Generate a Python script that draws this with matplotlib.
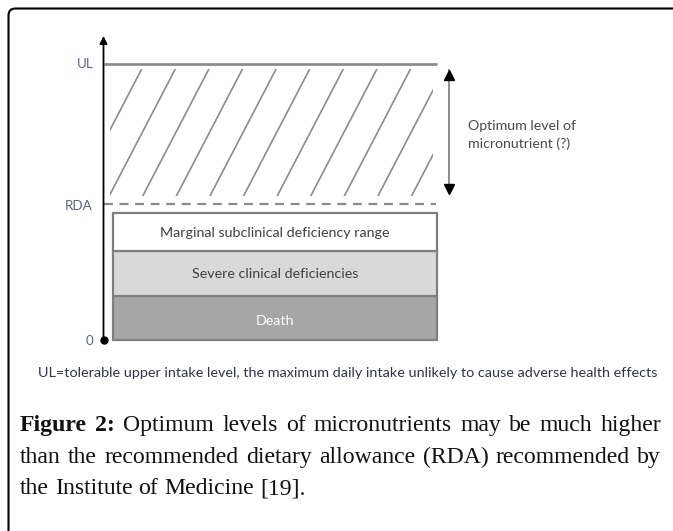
import matplotlib
matplotlib.use("Agg")
import matplotlib.pyplot as plt
from matplotlib.patches import FancyBboxPatch, Rectangle
import numpy as np

# ---------------- data (intake level, arbitrary units, 0 at origin) ----------------
band_labels = ["Death", "Severe clinical deficiencies", "Marginal subclinical deficiency range"]
band_bottoms = [0, 44, 89]
band_tops = [44, 89, 127]
band_colors = ["#a6a6a6", "#d9d9d9", "#ffffff"]
band_text_colors = ["#ffffff", "#404040", "#404040"]
level_names = ["0", "RDA", "UL"]
level_values = [0, 136, 276]
optimum_span = [147, 270]
optimum_lines = ["Optimum level of", "micronutrient (?)"]
footnote = ("UL=tolerable upper intake level, the maximum daily intake unlikely "
            "to cause adverse health effects")
caption_bold = "Figure 2:"
caption_text = ("Optimum levels of micronutrients may be much higher than the "
                "recommended dietary allowance (RDA) recommended by the Institute "
                "of Medicine [19].")
caption_breaks = [8, 16]  # words per justified line (after bold label)

# ---------------- figure ----------------
W, H = 673, 531
fig = plt.figure(figsize=(W / 100, H / 100), dpi=100)
fig.patch.set_facecolor("white")

page = fig.add_axes([0, 0, 1, 1])
page.set_xlim(0, W)
page.set_ylim(H, 0)
page.axis("off")

ax = fig.add_axes([0, 0, 1, 1])
ax.set_xlim(0, W)
ax.set_ylim(340 - H, 340)  # level L sits at pixel row 340-L
ax.axis("off")
ax.patch.set_alpha(0)

sans = ["Lato", "DejaVu Sans"]
serif = ["Liberation Serif", "DejaVu Serif"]
GRAY = "#8c8c8c"

# frame
page.add_patch(FancyBboxPatch((8.5, 8.5), 720, 600,
                              boxstyle="round,pad=0,rounding_size=7",
                              fill=False, ec="black", lw=1.5, clip_on=False))

# bands
heights = [t - b for t, b in zip(band_tops, band_bottoms)]
ax.bar(274.5, heights, bottom=band_bottoms, width=324, color=band_colors,
       edgecolor="#7f7f7f", linewidth=1.6, zorder=2)
for lab, b, t, c in zip(band_labels, band_bottoms, band_tops, band_text_colors):
    off = -3 if lab == "Death" else -1
    ax.text(275, (b + t) / 2 + off, lab, ha="center", va="center",
            color=c, family=sans, fontsize=10.3, zorder=3)

# UL and RDA lines
ul = level_values[2]
rda = level_values[1]
ax.plot([104, 437], [ul, ul], color=GRAY, lw=2.0, solid_capstyle="butt", zorder=2)
ax.plot([104, 436], [rda, rda], color=GRAY, lw=1.6, dashes=(4, 3), zorder=2)

# hatch between RDA and UL
h_bot, h_top = rda + 8, ul - 5
clip = Rectangle((110, h_bot), 323, h_top - h_bot, transform=ax.transData)
slope = 1.92
for k in range(-3, 12):
    xt = 141.7 + 33.6 * k
    xb = xt - (h_top - h_bot) / slope
    ln, = ax.plot([xb, xt], [h_bot, h_top], color=GRAY, lw=1.2, zorder=2)
    ln.set_clip_path(clip)

# y axis with arrow and origin dot
ax.annotate("", xy=(103.5, 304), xytext=(103.5, 0),
            arrowprops=dict(arrowstyle="-|>", color="black", lw=1.3,
                            mutation_scale=11, shrinkA=0, shrinkB=0), zorder=4)
ax.plot(103.5, level_values[0], marker="o", color="black", ms=5, zorder=5)

# level labels
label_x = {"0": 89, "RDA": 79, "UL": 85}
label_dy = {"0": -1, "RDA": -2, "UL": 0}
for name, v in zip(level_names, level_values):
    ax.text(label_x[name], v + label_dy[name], name, ha="center", va="center",
            color="#5a6580", family=sans, fontsize=9.6)

# optimum double arrow
ax.plot([449, 449], optimum_span, color=GRAY, lw=1.4, zorder=2)
ax.plot(449, optimum_span[1] - 4.5, marker="^", color="black", ms=7, zorder=3)
ax.plot(449, optimum_span[0] + 4.5, marker="v", color="black", ms=7, zorder=3)
for i, s in enumerate(optimum_lines):
    ax.text(468, 214 - 18 * i, s, ha="left", va="center", color="#4a4a4a",
            family=sans, fontsize=10.2)

fig.canvas.draw()
renderer = fig.canvas.get_renderer()

# footnote, fitted to width
fn = page.text(348, 373, footnote, ha="center", va="center", color="#30334a",
               family=sans, fontsize=8)
bb = fn.get_window_extent(renderer)
fn.set_fontsize(8 * 622 / bb.width)

# caption, justified
words = caption_text.split()
lines = [words[:caption_breaks[0]],
         words[caption_breaks[0]:caption_breaks[1]],
         words[caption_breaks[1]:]]
probe = page.text(0, 0, " ".join(lines[2]), family=serif, fontsize=12)
cap_size = 12 * 285 / probe.get_window_extent(renderer).width
probe.remove()
baselines = [431, 463, 494]
x0, x1 = 20, 661

def place_line(items, y, justify):
    objs = []
    for w, bold in items:
        t = page.text(0, y, w, ha="left", va="baseline", family=serif,
                      fontsize=cap_size, weight="bold" if bold else "normal",
                      color="#111111")
        objs.append(t)
    widths = [t.get_window_extent(renderer).width for t in objs]
    a1 = page.text(0, y, "a a", family=serif, fontsize=cap_size)
    a2 = page.text(0, y, "aa", family=serif, fontsize=cap_size)
    sw = a1.get_window_extent(renderer).width - a2.get_window_extent(renderer).width
    a1.remove()
    a2.remove()
    gap = (x1 - x0 - sum(widths)) / (len(objs) - 1) if justify else sw
    x = x0
    for t, w in zip(objs, widths):
        t.set_x(x)
        x += w + gap

first = [(w, True) for w in caption_bold.split()] + [(w, False) for w in lines[0]]
place_line(first, baselines[0], True)
place_line([(w, False) for w in lines[1]], baselines[1], True)
place_line([(w, False) for w in lines[2]], baselines[2], False)

fig.savefig("out.png", dpi=100, facecolor="white")
